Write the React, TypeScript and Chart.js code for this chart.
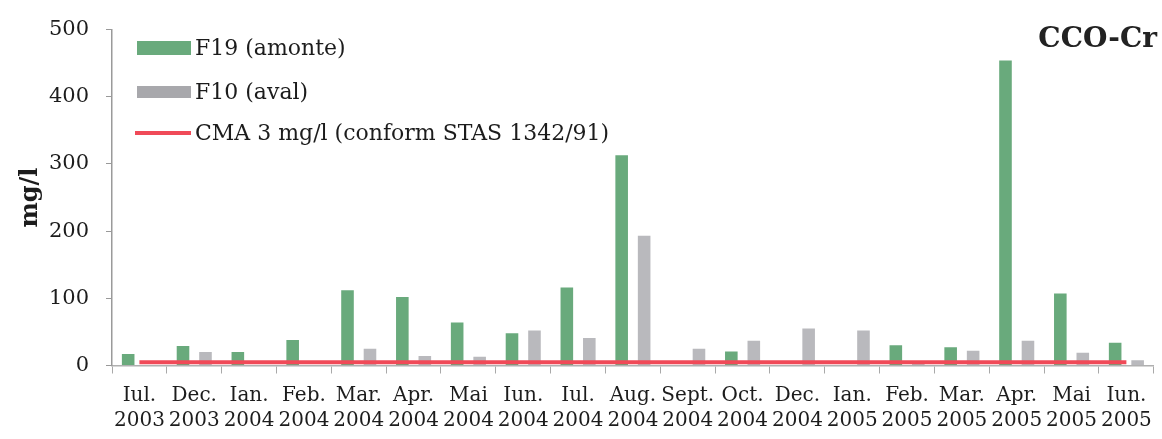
import React, { useEffect, useRef } from "react";
import { Chart, registerables } from "chart.js";

Chart.register(...registerables);

const months = ["Iul.", "Dec.", "Ian.", "Feb.", "Mar.", "Apr.", "Mai", "Iun.", "Iul.", "Aug.", "Sept.", "Oct.", "Dec.", "Ian.", "Feb.", "Mar.", "Apr.", "Mai", "Iun."];
const years = ["2003", "2003", "2004", "2004", "2004", "2004", "2004", "2004", "2004", "2004", "2004", "2004", "2004", "2005", "2005", "2005", "2005", "2005", "2005"];
const f19Values = [17, 29, 20, 38, 112, 102, 64, 48, 116, 313, null, 21, null, null, 30, 27, 454, 107, 34];
const f10Values = [null, 20, null, null, 25, 14, 13, 52, 41, 193, 25, 37, 55, 52, 6, 22, 37, 19, 8];
const cmaValues = [5, 5, 5, 5, 5, 5, 5, 5, 5, 5, 5, 5, 5, 5, 5, 5, 5, 5, 5];
const yTicks = [0, 100, 200, 300, 400, 500];

const legendLabels = ["F19 (amonte)", "F10 (aval)", "CMA 3 mg/l (conform STAS 1342/91)"];
const chartTitle = "CCO-Cr";
const yTitle = "mg/l";

const GREEN = "#69aa7c";
const GRAY = "#b9b9bd";
const RED = "#f04a58";
const FONT = "'DejaVu Serif', serif";
const TEXT = "#1c1c1c";

export default function App() {
  const ref = useRef<HTMLCanvasElement>(null);

  useEffect(() => {
    document.body.style.margin = "0";
    const canvas = ref.current;
    if (!canvas) return;

    const overlay = {
      id: "overlay",
      afterDraw(chart: any) {
        const ctx = chart.ctx;
        ctx.save();
        // legend
        const bx = 137, bw = 54, tx = 195;
        const rows = [48, 92, 133];
        ctx.fillStyle = GREEN;
        ctx.fillRect(bx, rows[0] - 7, bw, 14);
        ctx.fillStyle = "#a8a8ac";
        ctx.fillRect(bx, rows[1] - 6, bw, 12);
        ctx.strokeStyle = RED;
        ctx.lineWidth = 4;
        ctx.beginPath();
        ctx.moveTo(bx - 2, rows[2]);
        ctx.lineTo(bx + bw, rows[2]);
        ctx.stroke();
        ctx.fillStyle = TEXT;
        ctx.font = `22px ${FONT}`;
        ctx.textBaseline = "middle";
        ctx.textAlign = "left";
        legendLabels.forEach((t, i) => ctx.fillText(t, tx, rows[i] + 1));
        // title
        ctx.font = `bold 28px ${FONT}`;
        ctx.textAlign = "right";
        ctx.textBaseline = "alphabetic";
        ctx.fillStyle = "#222";
        ctx.fillText(chartTitle, 1157, 47);
        ctx.restore();
      },
    };

    const chart = new Chart(canvas, {
      type: "bar",
      data: {
        labels: months.map((m, i) => [m, years[i]]),
        datasets: [
          {
            type: "line",
            label: legendLabels[2],
            data: cmaValues,
            borderColor: RED,
            borderWidth: 4,
            pointRadius: 0,
            fill: false,
            order: 0,
          } as any,
          {
            label: legendLabels[0],
            data: f19Values,
            backgroundColor: GREEN,
            categoryPercentage: 0.82,
            barPercentage: 0.56,
            order: 1,
          },
          {
            label: legendLabels[1],
            data: f10Values,
            backgroundColor: GRAY,
            categoryPercentage: 0.82,
            barPercentage: 0.56,
            order: 1,
          },
        ],
      },
      options: {
        responsive: false,
        animation: false,
        devicePixelRatio: 1,
        layout: { padding: { left: 0, right: 6, top: 24, bottom: 0 } },
        plugins: {
          legend: { display: false },
          tooltip: { enabled: false },
          title: { display: false },
        },
        scales: {
          x: {
            grid: { offset: true, drawOnChartArea: false, drawTicks: true, tickLength: 8, color: "#a9a9a9" },
            border: { display: true, color: "#b0b0b0", width: 1.5 },
            ticks: {
              color: TEXT,
              font: { family: FONT, size: 20, lineHeight: 1.25 },
              padding: 10,
              maxRotation: 0,
              autoSkip: false,
            },
            afterFit(scale: any) {
              scale.height = 73.5;
            },
          },
          y: {
            min: 0,
            max: 500,
            afterBuildTicks(scale: any) {
              scale.ticks = yTicks.map((v) => ({ value: v }));
            },
            grid: { drawOnChartArea: false, drawTicks: true, tickLength: 6, color: "#999" },
            border: { display: true, color: "#9a9a9a", width: 1.5 },
            ticks: {
              color: TEXT,
              font: { family: FONT, size: 21 },
              padding: 17,
            },
            title: {
              display: true,
              text: yTitle,
              color: TEXT,
              font: { family: FONT, size: 24, weight: "bold", lineHeight: 1.2 },
              padding: { top: 16, bottom: 0 },
            },
            afterFit(scale: any) {
              scale.width = 112;
            },
          },
        },
      },
      plugins: [overlay],
    });

    return () => chart.destroy();
  }, []);

  return (
    <div style={{ width: 1162, height: 439 }}>
      <canvas ref={ref} width={1162} height={439} style={{ display: "block", width: 1162, height: 439 }} />
    </div>
  );
}
